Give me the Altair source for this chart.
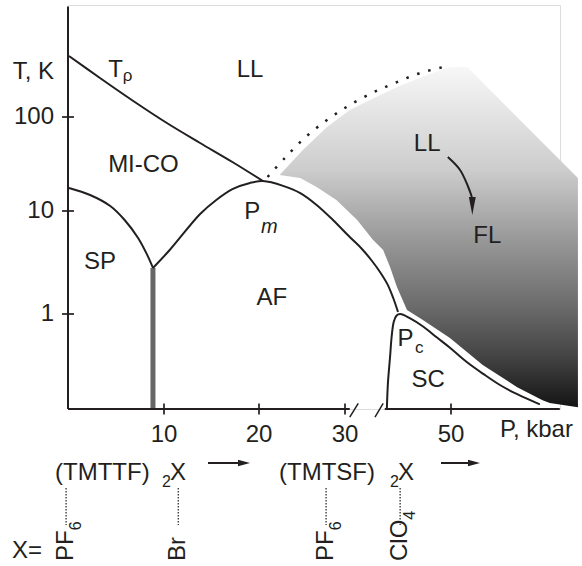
import altair as alt
import pandas as pd

INK = "#231f20"
FONT = "Liberation Sans"

# ---------------- phase boundaries (pressure in kbar, temperature in K) ----------------
# T_rho crossover between the Luttinger liquid and the charge-ordered Mott insulator
TRHO_P = [0.1, 3.33, 6.8, 10.3, 13.8, 17.2, 20.47]
TRHO_T = [446, 260, 148, 86.3, 52.9, 33.2, 20.8]

# spin-Peierls transition line
SP_P = [0.1, 2.3, 4.4, 5.9, 7.3, 8.2, 8.85]
SP_T = [17.6, 14.8, 11.3, 8.18, 5.47, 3.83, 2.80]

# antiferromagnetic (SDW) dome
AF_P = [8.85, 10.6, 13.8, 15.5, 17.2, 19.05, 20.47, 22.8, 24.8, 26.7, 28.6, 30.9,
        33.2, 35.1, 36.6, 38.0, 39.1, 40.0]
AF_T = [2.80, 4.18, 9.35, 13.1, 17.1, 19.9, 20.8, 18.5, 15.5, 11.6, 8.18, 5.59,
        4.28, 3.27, 2.56, 1.95, 1.43, 1.046]

# superconducting dome
SC_P = [37.9, 38.1, 38.5, 38.8, 39.2, 39.7, 40.4, 42.3, 44.8, 47.3, 49.8, 51.7,
        53.6, 55.4, 57.3, 59.8]
SC_T = [0.122, 0.214, 0.383, 0.602, 0.842, 0.963, 1.0, 0.908, 0.753, 0.594, 0.471,
        0.344, 0.261, 0.205, 0.167, 0.133]

# dotted deconfinement line
DOT_P = [21.0, 23.0, 25.3, 27.9, 30.6, 35.1, 39.4, 44.2, 49.4]
DOT_T = [23.0, 36.6, 59.8, 92.9, 131, 180, 230, 294, 349]

# outline of the shaded LL -> FL crossover region
FL_P = [22.4, 25.1, 27.9, 30.9, 34.7, 39.8, 45.5, 49.8, 51.8, 64.0, 64.0, 60.9, 60.1,
        57.3, 53.5, 49.8, 44.7, 41.7, 39.8, 38.5, 37.2, 35.3, 32.3, 29.0, 26.7, 24.8]
FL_T = [24.2, 44.6, 78.3, 119, 152, 208, 280, 340, 340, 22.4, 0.125, 0.137, 0.146,
        0.195, 0.32, 0.585, 0.875, 1.093, 1.83, 2.86, 4.18, 5.23, 8.18, 13.1, 18.0, 22.4]

# spin-Peierls / AF boundary (vertical bar)
BR_P = 8.85
BR_T = [2.80, 0.12]

# curved LL -> FL arrow
ARROW_P = [49.4, 51.0, 51.9, 52.3]
ARROW_T = [37.5, 27.3, 18.0, 14.1]
ARROW_HEAD = (52.35, 11.3)

# axes
T_MIN, T_MAX = 0.12, 1500
P_TICKS = [10, 20, 30, 50]
T_TICKS = [1, 10, 100]
T_TICK_LABELS = ["1", "10", "100"]
AXIS_LEFT = (0, 30.9)
AXIS_RIGHT = (37.5, 62)
BREAKS_P = [30.9, 35.66]
BREAKS_P2 = [32.5, 37.2]
BREAK_T = (0.1, 0.136)

# region labels
REGION_TEXT = ["LL", "MI-CO", "SP", "AF", "LL", "FL", "SC", "T", "P", "P"]
REGION_P = [19.05, 7.86, 3.33, 21.5, 45.5, 54.0, 45.7, 4.95, 19.3, 41.4]
REGION_T = [316, 30.8, 3.2, 1.43, 51.6, 5.72, 0.229, 316, 9.7, 0.578]
SUB_TEXT = ["\u03c1", "c"]
SUB_P = [6.2, 44.0]
SUB_T = [273, 0.468]
ITALIC_TEXT = ["m"]
ITALIC_P = [21.2]
ITALIC_T = [7.0]

# compounds along the pressure axis
COMPOUND_P = [-0.2, 11.5, 27.8, 40.4]
ANION = ["PF", "Br", "PF", "ClO"]
ANION_SUB = ["6", "", "6", "4"]

# ---------------- scales ----------------
# pressure axis is compressed between 30 and 50 kbar (axis break)
x_scale = alt.Scale(domain=[0, 10, 20, 30, 50, 65], range=[0, 96, 191, 277, 383, 519],
                    nice=False, zero=False)
y_scale = alt.Scale(type="log", domain=[T_MIN, 1, 10, 100, T_MAX],
                    range=[404, 309, 206, 112, 1.5], nice=False)

# advance widths (em) used to place the rotated subscripts after their base text
ADVANCE = {"P": 0.667, "F": 0.611, "B": 0.667, "r": 0.333, "C": 0.722, "l": 0.222, "O": 0.778}


def X(field="p"):
    return alt.X(f"{field}:Q", scale=x_scale, axis=None)


def Y(field="t"):
    return alt.Y(f"{field}:Q", scale=y_scale, axis=None)


def curve(name, ps, ts):
    return pd.DataFrame({"curve": name, "i": range(len(ps)), "p": ps, "t": ts})


ONE = pd.DataFrame({"k": [0]})


def note(text, x, y, size=24, align="left", baseline="alphabetic", **kw):
    return alt.Chart(ONE).mark_text(
        text=text, fontSize=size, font=FONT, color=INK, align=align, baseline=baseline, **kw
    ).encode(x=alt.value(x), y=alt.value(y))


# ---------------- layers ----------------
shade = alt.LinearGradient(
    gradient="linear", x1=0, x2=0, y1=0, y2=1,
    stops=[
        alt.GradientStop(color="#f7f7f7", offset=0),
        alt.GradientStop(color="#cdcdcd", offset=0.3),
        alt.GradientStop(color="#9a9a9a", offset=0.5),
        alt.GradientStop(color="#6c6c6c", offset=0.7),
        alt.GradientStop(color="#444444", offset=0.85),
        alt.GradientStop(color="#141414", offset=1),
    ],
)
fl_region = alt.Chart(curve("fl", FL_P, FL_T)).mark_line(
    filled=True, fill=shade, strokeWidth=0, interpolate="linear-closed"
).encode(x=X(), y=Y(), order="i:Q")

dotted = alt.Chart(curve("dot", DOT_P, DOT_T)).mark_line(
    color=INK, strokeWidth=2.5, strokeDash=[2.5, 9], interpolate="catmull-rom"
).encode(x=X(), y=Y(), order="i:Q")

br_bar = alt.Chart(pd.DataFrame({"p": [BR_P], "t": [BR_T[0]], "t2": [BR_T[1]]})).mark_rule(
    color="#666666", strokeWidth=5
).encode(x=X(), y=Y(), y2="t2:Q")

boundaries = pd.concat([
    curve("trho", TRHO_P, TRHO_T),
    curve("sp", SP_P, SP_T),
    curve("af", AF_P, AF_T),
    curve("sc", SC_P, SC_T),
])
lines = alt.Chart(boundaries).mark_line(
    color=INK, strokeWidth=2, interpolate="catmull-rom"
).encode(x=X(), y=Y(), detail="curve:N", order="i:Q")

arrow_line = alt.Chart(curve("arrow", ARROW_P, ARROW_T)).mark_line(
    color=INK, strokeWidth=2, interpolate="catmull-rom"
).encode(x=X(), y=Y(), order="i:Q")
arrow_head = alt.Chart(pd.DataFrame({"p": [ARROW_HEAD[0]], "t": [ARROW_HEAD[1]]})).mark_point(
    shape="M-0.38,-1L0,1L0.38,-1Z", filled=True, color=INK, opacity=1, size=324, strokeWidth=0
).encode(x=X(), y=Y())

# axis lines
y_axis = alt.Chart(pd.DataFrame({"p": [0], "t": [T_MIN], "t2": [T_MAX]})).mark_rule(
    color=INK, strokeWidth=2
).encode(x=X(), y=Y(), y2="t2:Q")
x_axis = alt.Chart(pd.DataFrame({
    "p": [AXIS_LEFT[0], AXIS_RIGHT[0]], "p2": [AXIS_LEFT[1], AXIS_RIGHT[1]], "t": [T_MIN, T_MIN]
})).mark_rule(color=INK, strokeWidth=2).encode(x=X(), x2="p2:Q", y=Y())
breaks = alt.Chart(pd.DataFrame({
    "p": BREAKS_P, "p2": BREAKS_P2, "t": [BREAK_T[0]] * 2, "t2": [BREAK_T[1]] * 2
})).mark_rule(color=INK, strokeWidth=1.5).encode(x=X(), x2="p2:Q", y=Y(), y2="t2:Q")

x_ticks = alt.Chart(pd.DataFrame({"p": P_TICKS, "t": [T_MIN] * len(P_TICKS)})).mark_tick(
    orient="vertical", size=11, thickness=1.7, color=INK, opacity=1
).encode(x=X(), y=Y())
y_ticks = alt.Chart(pd.DataFrame({"p": [0] * len(T_TICKS), "t": T_TICKS})).mark_tick(
    orient="horizontal", size=12, thickness=1.7, color=INK, opacity=1
).encode(x=X(), y=Y())

x_labels = alt.Chart(pd.DataFrame({"p": P_TICKS, "label": [str(v) for v in P_TICKS]})).mark_text(
    fontSize=24, font=FONT, color=INK, align="center", baseline="alphabetic"
).encode(x=X(), y=alt.value(437), text="label:N")
y_labels = alt.Chart(pd.DataFrame({"t": T_TICKS, "label": T_TICK_LABELS})).mark_text(
    fontSize=24, font=FONT, color=INK, align="right", baseline="middle"
).encode(x=alt.value(-14), y=Y(), text="label:N")

regions = alt.Chart(pd.DataFrame({"p": REGION_P, "t": REGION_T, "label": REGION_TEXT})).mark_text(
    fontSize=24, font=FONT, color=INK, align="center", baseline="middle"
).encode(x=X(), y=Y(), text="label:N")
subs = alt.Chart(pd.DataFrame({"p": SUB_P, "t": SUB_T, "label": SUB_TEXT})).mark_text(
    fontSize=17, font=FONT, color=INK, align="center", baseline="middle"
).encode(x=X(), y=Y(), text="label:N")
italics = alt.Chart(pd.DataFrame({"p": ITALIC_P, "t": ITALIC_T, "label": ITALIC_TEXT})).mark_text(
    fontSize=20, font=FONT, fontStyle="italic", color=INK, align="center", baseline="middle"
).encode(x=X(), y=Y(), text="label:N")

# compound markers below the pressure axis
ANION_BASE_Y = 556
compounds = pd.DataFrame({"p": COMPOUND_P, "anion": ANION})
markers = alt.Chart(compounds).mark_rule(
    color=INK, strokeWidth=1.2, strokeDash=[1.5, 1.5]
).encode(x=X(), y=alt.value(483), y2=alt.value(520))
anions = alt.Chart(compounds).mark_text(
    fontSize=24, font=FONT, color=INK, angle=270, align="left", baseline="middle"
).encode(x=X(), y=alt.value(ANION_BASE_Y), text="anion:N")

anion_subs = []
for p, base, sub in zip(COMPOUND_P, ANION, ANION_SUB):
    if not sub:
        continue
    length = sum(ADVANCE[c] for c in base) * 24
    anion_subs.append(
        alt.Chart(pd.DataFrame({"p": [p]})).mark_text(
            text=sub, fontSize=16, font=FONT, color=INK, angle=270,
            align="left", baseline="middle", dy=10
        ).encode(x=X(), y=alt.value(ANION_BASE_Y - length))
    )


def arrow_right(x0, x1, y):
    shaft = alt.Chart(ONE).mark_rule(color=INK, strokeWidth=2).encode(
        x=alt.value(x0), x2=alt.value(x1 - 8), y=alt.value(y))
    head = alt.Chart(ONE).mark_point(
        shape="M-1,-0.55L1,0L-1,0.55Z", filled=True, color=INK, opacity=1, size=144, strokeWidth=0
    ).encode(x=alt.value(x1 - 6), y=alt.value(y))
    return shaft + head


texts = [
    note("T, K", -14, 74, align="right"),
    note("P, kbar", 432, 432),
    note("(TMTTF)", -13, 475),
    note("2", 94, 482, size=16),
    note("X", 102, 475),
    note("(TMTSF)", 211, 475),
    note("2", 322, 482, size=16),
    note("X", 330, 475),
    note("X=", -56, 553),
]

chart = alt.layer(
    fl_region, dotted, br_bar, lines, arrow_line, arrow_head,
    y_axis, x_axis, breaks, x_ticks, y_ticks,
    x_labels, y_labels, regions, subs, italics,
    markers, anions, *anion_subs,
    arrow_right(140, 182, 458), arrow_right(373, 412, 458),
    *texts,
).properties(
    width=492, height=404,
    autosize=alt.AutoSizeParams(type="none"),
    padding={"left": 68, "top": 5, "right": 22, "bottom": 157},
).configure_view(stroke="transparent").configure(background="white")

chart.save("out.html", embed_options={"renderer": "svg", "actions": False})
